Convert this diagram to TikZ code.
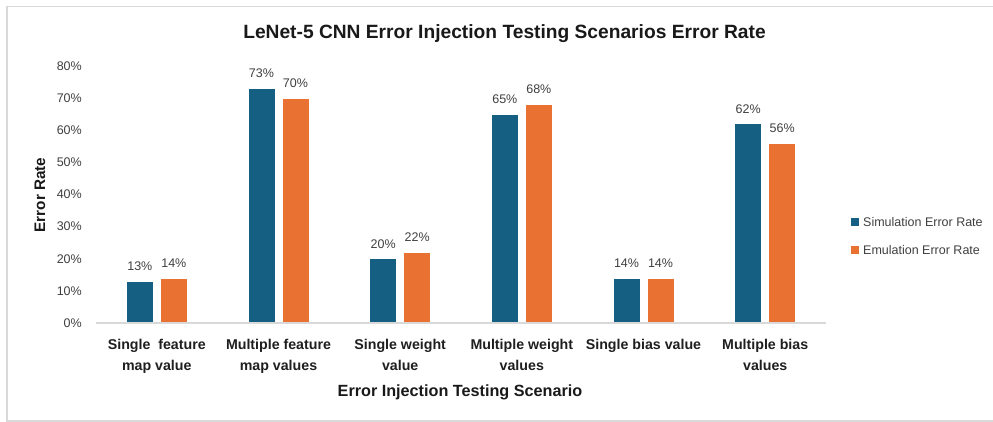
\documentclass[tikz,border=0pt]{standalone}
\usepackage{fontspec}
\setmainfont{Liberation Sans}
\definecolor{simblue}{HTML}{156082}
\definecolor{emuorange}{HTML}{E97132}
\definecolor{txtgrey}{HTML}{404040}
\definecolor{axisgrey}{HTML}{D9D9D9}
\definecolor{frameg}{HTML}{D9D9D9}
\begin{document}
\begin{tikzpicture}[x=1pt,y=-1pt,
  ticklbl/.style={anchor=east,inner sep=0pt,text=txtgrey,font=\fontsize{12.5}{15}\selectfont},
  vallbl/.style={inner sep=0pt,text=txtgrey,font=\fontsize{12.5}{15}\selectfont},
  catlbl/.style={anchor=base,inner sep=0pt,text=black!88,font=\bfseries\fontsize{14.2}{17}\selectfont},
  legtxt/.style={anchor=west,inner sep=0pt,text=txtgrey,font=\fontsize{12.5}{15}\selectfont},
  barS/.style={fill=simblue,draw=white,line width=0.7pt},
  barE/.style={fill=emuorange,draw=white,line width=0.7pt}]
\useasboundingbox (0,0) rectangle (993,422);
\fill[white] (0,0) rectangle (993,422);
% frame
\draw[frameg,line width=1.3pt] (993,6.5) -- (7,6.5) -- (7,421) -- (993,421);
% title
\node[anchor=base,inner sep=0pt,font=\bfseries\fontsize{19.2}{22}\selectfont,text=black!90] (title) at (504.5,39) {LeNet-5 CNN Error Injection Testing Scenarios Error Rate};
% y ticks
\foreach \v in {0,10,...,80}{
  \pgfmathsetmacro{\yy}{323-\v*3.2125}
  \node[ticklbl] (tick\v) at (82,\yy) {\v\%};
}
% bars
\foreach \i/\s/\e in {1/13/14,2/73/70,3/20/22,4/65/68,5/14/14,6/62/56}{
  \pgfmathsetmacro{\cx}{96+121.67*(\i-0.5)}
  \pgfmathsetmacro{\ys}{323-\s*3.2125}
  \pgfmathsetmacro{\ye}{323-\e*3.2125}
  \draw[barS] (\cx-30.5,323) rectangle (\cx-3.5,\ys);
  \draw[barE] (\cx+3.5,323) rectangle (\cx+30.5,\ye);
  \node[vallbl] (vs\i) at (\cx-17,\ys-15) {\s\%};
  \node[vallbl] (ve\i) at (\cx+17,\ye-15) {\e\%};
}
% axis
\draw[axisgrey,line width=1.5pt] (96,323) -- (826,323);
% category labels
\node[catlbl] (c1a) at (156.8,349) {Single\ \ feature};
\node[catlbl] (c1b) at (156.8,370) {map value};
\node[catlbl] (c2a) at (278.5,349) {Multiple feature};
\node[catlbl] (c2b) at (278.5,370) {map values};
\node[catlbl] (c3a) at (400.2,349) {Single weight};
\node[catlbl] (c3b) at (400.2,370) {value};
\node[catlbl] (c4a) at (521.8,349) {Multiple weight};
\node[catlbl] (c4b) at (521.8,370) {values};
\node[catlbl] (c5a) at (643.5,349) {Single bias value};
\node[catlbl] (c6a) at (765.2,349) {Multiple bias};
\node[catlbl] (c6b) at (765.2,370) {values};
% axis titles
\node[anchor=base,inner sep=0pt,font=\bfseries\fontsize{16.2}{19}\selectfont,text=black!90] (xtitle) at (460,396) {Error Injection Testing Scenario};
\node[rotate=90,inner sep=0pt,font=\bfseries\fontsize{15.3}{18}\selectfont,text=black!90] (ytitle) at (40,195) {Error Rate};
% legend
\fill[simblue] (851,218) rectangle (859,226);
\node[legtxt] (legS) at (863,222) {Simulation Error Rate};
\fill[emuorange] (851,246) rectangle (859,254);
\node[legtxt] (legE) at (863,250) {Emulation Error Rate};
\end{tikzpicture}
\end{document}
